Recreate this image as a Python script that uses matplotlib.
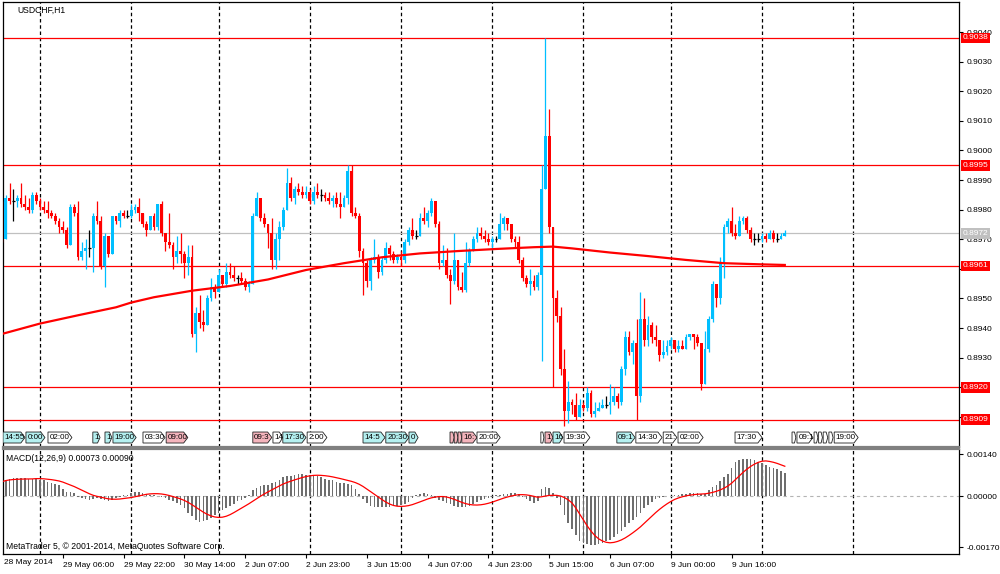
import numpy as np
import pandas as pd
import matplotlib
matplotlib.use("Agg")
from matplotlib import pyplot as plt
from matplotlib.patches import Polygon
from matplotlib.transforms import blended_transform_factory

plt.rcParams['font.family'] = ['Liberation Sans', 'DejaVu Sans']

# prices are typed as pips above 0.8900
BASE = 0.8900
PIP = 0.0001

first_open = 83
close_pips = [
    70, 84, 83, 83, 84, 82, 81, 80, 85, 83,                      # 28 May
    81, 80, 79, 78, 76, 74, 73, 68, 81, 79, 64, 66, 67, 67,      # 29 May
    78, 76, 61, 71, 65, 78, 76, 79, 78, 78,
    80, 81, 79, 75, 73, 78, 74, 82, 72, 69, 68, 64, 66, 65,      # 30 May
    62, 64, 38, 45, 42, 41, 50, 54, 52,
    58, 55, 59, 58, 57, 57, 56, 54, 55, 78, 84, 77, 75, 72,      # 2 Jun
    63, 70, 74, 80, 89, 84, 87, 86, 85, 86,
    83, 86, 85, 85, 84, 83, 84, 82, 81, 84, 93, 79, 78, 66,      # 3 Jun
    62, 56, 63, 64, 59, 63, 67, 65, 63, 64,
    63, 69, 73, 71, 71, 77, 76, 79, 83, 75, 62, 63, 58, 56,      # 4 Jun
    63, 54, 53, 62, 66, 70, 72, 71, 70, 69,
    70, 70, 75, 77, 75, 70, 69, 63, 57, 55, 56, 54, 58, 87,      # 5 Jun
    105, 74, 50, 44, 26, 12, 15, 14, 10, 14,
    13, 18, 11, 12, 13, 14, 14, 15, 17, 15, 26, 37, 32, 35,      # 6 Jun
    17, 43, 36, 41, 37, 36, 31, 32, 34,
    36, 33, 34, 33, 37, 38, 37, 35, 21, 33, 43, 55, 50, 62,      # 9 Jun
    74, 76, 72, 71, 76, 77, 73, 70, 70, 70,
    71, 70, 72, 70, 70, 71, 72,                                  # 10 Jun
]
high_pips = [
    83, 85, 89, 87, 85, 89, 85, 84, 86, 86,
    84, 83, 83, 80, 79, 77, 76, 74, 82, 82, 83, 69, 70, 73,
    79, 83, 78, 72, 71, 78, 78, 80, 80, 80,
    82, 82, 84, 79, 76, 78, 79, 82, 83, 72, 79, 69, 71, 72,
    66, 68, 68, 47, 51, 46, 51, 57, 55,
    60, 58, 62, 62, 61, 58, 59, 57, 56, 79, 86, 84, 79, 75,
    77, 72, 76, 81, 94, 91, 88, 89, 88, 88,
    87, 88, 89, 87, 86, 86, 85, 86, 86, 85, 95, 95, 81, 79,
    67, 63, 64, 70, 65, 64, 69, 68, 66, 65,
    66, 70, 74, 77, 73, 79, 81, 80, 84, 83, 76, 68, 67, 60,
    72, 63, 59, 69, 67, 71, 74, 74, 73, 72,
    71, 71, 79, 78, 77, 75, 71, 71, 64, 58, 60, 58, 59, 95,
    138, 114, 74, 53, 47, 33, 22, 16, 18, 16,
    15, 20, 19, 15, 15, 16, 17, 21, 20, 18, 27, 39, 39, 36,
    43, 52, 50, 44, 42, 41, 36, 36, 36,
    37, 36, 36, 36, 38, 38, 38, 38, 33, 39, 44, 56, 54, 64,
    75, 77, 81, 75, 78, 78, 78, 74, 72, 72,
    72, 72, 73, 73, 72, 72, 73,
]
low_pips = [
    69, 70, 82, 76, 81, 81, 80, 79, 79, 82,
    80, 79, 77, 77, 75, 72, 72, 67, 68, 78, 63, 63, 60, 64,
    59, 75, 60, 54, 64, 65, 75, 74, 77, 77,
    77, 79, 76, 74, 71, 73, 73, 73, 71, 66, 67, 60, 62, 62,
    57, 58, 37, 32, 40, 39, 41, 49, 50,
    52, 54, 54, 57, 56, 55, 55, 53, 52, 55, 78, 76, 74, 67,
    60, 60, 63, 73, 80, 83, 82, 85, 84, 84,
    82, 82, 84, 83, 83, 82, 81, 81, 77, 81, 82, 78, 77, 64,
    51, 54, 53, 62, 57, 58, 62, 63, 62, 62,
    61, 62, 68, 70, 70, 71, 75, 74, 78, 74, 60, 61, 57, 48,
    55, 53, 52, 52, 61, 66, 69, 70, 69, 68,
    67, 69, 70, 73, 73, 69, 67, 62, 56, 54, 51, 53, 53, 29,
    87, 72, 20, 42, 24, 7, 8, 11, 9, 12,
    12, 12, 10, 10, 12, 13, 13, 11, 14, 13, 14, 24, 31, 28,
    9, 15, 34, 34, 35, 34, 29, 30, 31,
    33, 32, 32, 33, 33, 36, 33, 34, 19, 21, 32, 42, 47, 48,
    57, 72, 71, 70, 71, 75, 72, 69, 68, 69,
    69, 69, 70, 69, 69, 70, 71,
]

# 200-period moving average read at a few bars
ma_bars = [0, 10, 20, 30, 34, 40, 50, 60, 70, 80, 90, 100, 110, 120, 130,
           140, 145, 150, 160, 170, 180, 190, 200, 206]
ma_pips = [38.0, 41.5, 44.3, 47.0, 48.6, 50.4, 52.6, 54.2, 56.4, 59.6, 61.9,
           63.9, 65.2, 66.0, 66.7, 67.3, 67.5, 66.9, 65.5, 64.3, 63.0, 61.9,
           61.5, 61.3]

# MACD main line (histogram), units of 0.00001
macd_main = [
    48, 55, 58, 59, 59, 59, 59, 58, 58, 57, 55,
    52, 48, 45, 41, 37, 25, 14, 12, 10,
    -3, -6, -10, -12, -9, -6, -11, -14, -15, -12, -8,
    -3, 2, 5, 10, 14, 13, 10, 8,
    5, 3, 1, -4, -8, -13, -18, -24, -30, -41,
    -55, -68, -80, -86, -84, -80, -72, -63, -55,
    -47, -40, -33, -25, -18, -12, -5, 5,
    20, 28, 32, 36, 38, 42, 48, 54, 62, 66,
    68, 70, 72, 72, 71, 70, 68, 66, 62, 58, 55, 52,
    48, 45, 42, 40, 37, 25, 8,
    -10, -24, -32, -36, -38, -38, -36, -35, -34, -33, -30, -25, -19,
    -8, 2, 6, 9, 8, 2, -6, -12, -17,
    -22, -28, -33, -36, -38, -36, -32, -26, -20, -14,
    -10, -6, -2, 2, 5, 7, 8, 9, 10, 6,
    -4, -10, -16, -22, -18, 22, 31, 28,
    10, -6, -30, -62, -90, -110, -130, -150,
    -158, -160, -162, -163, -160, -156, -150, -145, -138, -128, -115, -102,
    -90, -80, -70, -58, -40, -30, -20, -10, -5, -2, 0, 1,
    3, 4, 6, 8, 10, 11, 10, 6, 8,
    20, 30, 38, 50, 62, 75, 95, 114, 120, 124, 125,
    122, 119, 115, 110, 104, 98, 95, 90, 84, 78,
]

level_prices = [0.9038, 0.8995, 0.8961, 0.8920, 0.8909]
bid_price = 0.8972

day_starts = [10, 34, 57, 81, 105, 129, 153, 176, 200, 224]
time_tick_bars = [16, 32, 48, 64, 80, 96, 112, 128, 144, 160, 176, 192]
time_tick_labels = ['29 May 06:00', '29 May 22:00', '30 May 14:00', '2 Jun 07:00',
                    '2 Jun 23:00', '3 Jun 15:00', '4 Jun 07:00', '4 Jun 23:00',
                    '5 Jun 15:00', '6 Jun 07:00', '9 Jun 00:00', '9 Jun 16:00']

# deal time labels as shown (truncated where they overlap): start bar, end bar, text, kind
deal_labels = [
    (0.26, 6.05, '14:55', 'c'), (6.3, 11.3, '0:00', 'c'), (12.1, 18.4, '02:00', 'w'),
    (23.9, 25.8, '1', 'c'), (27.1, 28.9, '1', 'c'), (29.2, 35.3, '19:00', 'c'),
    (37.1, 42.9, '03:30', 'w'), (43.2, 48.9, '09:00', 'p'), (66.0, 71.0, '09:3', 'p'),
    (71.3, 73.9, '14', 'w'), (73.9, 80.0, '17:30', 'c'), (80.3, 85.5, '2:00', 'w'),
    (95.0, 100.8, '14:5', 'c'), (101.0, 107.1, '20:30', 'c'), (107.1, 109.5, '0', 'c'),
    (117.9, 119.0, '', 'p'), (119.0, 120.0, '', 'p'), (120.0, 121.0, '', 'p'),
    (121.0, 125.0, '16:', 'p'), (125.0, 131.1, '20:00', 'w'), (141.8, 142.6, '', 'w'),
    (142.9, 145.0, '1', 'p'), (145.0, 147.6, '16', 'c'), (147.9, 154.7, '19:30', 'w'),
    (161.8, 166.6, '09:1', 'c'), (166.8, 173.7, '14:30', 'w'), (174.0, 177.6, '21:', 'w'),
    (177.9, 184.5, '02:00', 'w'), (192.9, 200.0, '17:30', 'w'), (207.9, 208.9, '', 'w'),
    (209.2, 213.4, '09:1', 'w'), (213.7, 214.7, '', 'w'), (214.9, 215.9, '', 'w'),
    (216.1, 217.3, '', 'w'), (217.6, 218.7, '', 'w'), (219.0, 225.3, '19:00', 'w'),
]
deal_colors = {'c': '#b4f0f0', 'p': '#f4b4bc', 'w': '#ffffff'}

BULL = '#00bfff'
BEAR = '#ff0000'

# ---- build OHLC
c = BASE + np.array(close_pips) * PIP
o = np.concatenate([[BASE + first_open * PIP], c[:-1]])
h = np.maximum(BASE + np.array(high_pips) * PIP, np.maximum(o, c))
l = np.minimum(BASE + np.array(low_pips) * PIP, np.minimum(o, c))
x = np.arange(len(c))

fig = plt.figure(figsize=(10, 5.74), dpi=100)
ax = fig.add_axes([0.0025, 1 - 447 / 574, 0.9568, 445 / 574])
axm = fig.add_axes([0.0025, 1 - 554 / 574, 0.9568, 105 / 574])

x_lo, x_hi = 0.13, 251.92
for a in (ax, axm):
    a.set_xlim(x_lo, x_hi)
    for b in day_starts:
        a.axvline(b, color='black', ls=(0, (2.8, 2.2)), lw=0.9, zorder=1)

ax.set_ylim(0.88998, 0.905014)
axm.set_ylim(-0.001933, 0.001567)

# levels and bid line
for p in level_prices:
    ax.axhline(p, color='#ff0000', lw=0.9, zorder=2)
ax.axhline(bid_price, color='#c0c0c0', lw=0.9, zorder=1.5)

# candles
up = c > o
dn = c < o
eq = c == o
ax.vlines(x[up], l[up], h[up], color=BULL, lw=0.9, zorder=3)
ax.vlines(x[dn], l[dn], h[dn], color=BEAR, lw=0.9, zorder=3)
ax.vlines(x[eq], l[eq], h[eq], color='black', lw=0.9, zorder=3)
ax.bar(x[up], (c - o)[up], bottom=o[up], width=0.72, color=BULL, lw=0, zorder=4)
ax.bar(x[dn], (o - c)[dn], bottom=c[dn], width=0.72, color=BEAR, lw=0, zorder=4)
ax.hlines(c[eq], x[eq] - 0.36, x[eq] + 0.36, color='black', lw=0.9, zorder=4)

# moving average
ax.plot(ma_bars, BASE + np.array(ma_pips) * PIP, color='#ff0000', lw=1.6, zorder=5,
        solid_joinstyle='round')

# deal labels strip
y_top, y_bot = 0.890486, 0.890115
y_mid = (y_top + y_bot) / 2
for x0, x1, txt, kind in deal_labels:
    tip = min(1.1, 0.35 * (x1 - x0))
    poly = Polygon([(x0, y_bot), (x1 - tip, y_bot), (x1, y_mid), (x1 - tip, y_top), (x0, y_top)],
                   closed=True, fc=deal_colors[kind], ec='#202020', lw=0.6, zorder=6)
    ax.add_patch(poly)
    if txt:
        t = ax.text(x0 + 0.35, y_mid, txt, fontsize=5.8, va='center', ha='left', zorder=7,
                    clip_on=True)
        t.set_clip_path(poly)

# right price scale; ticks hidden fully under a level box get no label
price_ticks = np.round(np.arange(0.8910, 0.90405, 0.0010), 4)
covered = [0.8910, 0.8920, 0.8960]
ax.yaxis.tick_right()
ax.set_yticks(price_ticks)
ax.set_yticklabels(['' if t in covered else f'{t:.4f}' for t in price_ticks])
ax.tick_params(axis='y', direction='out', length=3, width=0.8, labelsize=6, pad=2)
ax.set_xticks([])

trans = blended_transform_factory(ax.transAxes, ax.transData)
for p in level_prices:
    ax.text(1.0035, p, f'{p:.4f}', transform=trans, fontsize=6, color='white',
            va='center', ha='left', clip_on=False, zorder=10,
            bbox=dict(boxstyle='square,pad=0.22', fc='#ff0000', ec='none'))
ax.text(1.0035, bid_price, f'{bid_price:.4f}', transform=trans, fontsize=6, color='white',
        va='center', ha='left', clip_on=False, zorder=10,
        bbox=dict(boxstyle='square,pad=0.22', fc='#c0c0c0', ec='none'))

ax.text(0.0152, 0.982, 'USDCHF,H1', transform=ax.transAxes, fontsize=6.2, va='center', ha='left')

# MACD pane
macd = np.array(macd_main) * 1e-5
signal = pd.Series(macd).rolling(9, min_periods=1).mean().values
axm.axhline(0, color='#b4b4b4', lw=0.8, ls=(0, (3, 3)), zorder=1)
axm.bar(x, macd, width=0.45, color='#6e6e6e', lw=0, zorder=3)
axm.plot(x, signal, color='#ff0000', lw=0.9, zorder=4)

axm.yaxis.tick_right()
axm.set_yticks([0.0014, 0.0, -0.0017])
axm.set_yticklabels(['0.00140', '0.00000', '-0.00170'])
axm.tick_params(axis='y', direction='out', length=3, width=0.8, labelsize=6, pad=2)
axm.set_xticks(time_tick_bars)
axm.set_xticklabels(time_tick_labels)
axm.tick_params(axis='x', direction='out', length=3, width=0.8, labelsize=6, pad=3)
for lbl in axm.get_xticklabels():
    lbl.set_ha('left')

axm.text(0.0037, 0.914, 'MACD(12,26,9) 0.00073 0.00090', transform=axm.transAxes,
         fontsize=6.2, va='center', ha='left')
axm.text(0.0037, 0.07, 'MetaTrader 5, \u00a9 2001-2014, MetaQuotes Software Corp.',
         transform=axm.transAxes, fontsize=6.2, va='center', ha='left', zorder=6)
fig.text(0.004, 1 - 563 / 574, '28 May 2014', fontsize=6, va='center', ha='left')

for a in (ax, axm):
    for s in a.spines.values():
        s.set_color('black')
        s.set_linewidth(0.9)
ax.spines['bottom'].set_color('#808080')
ax.spines['bottom'].set_linewidth(1.6)
axm.spines['top'].set_color('#808080')
axm.spines['top'].set_linewidth(1.6)

fig.savefig('out.png', dpi=100, facecolor='white')
